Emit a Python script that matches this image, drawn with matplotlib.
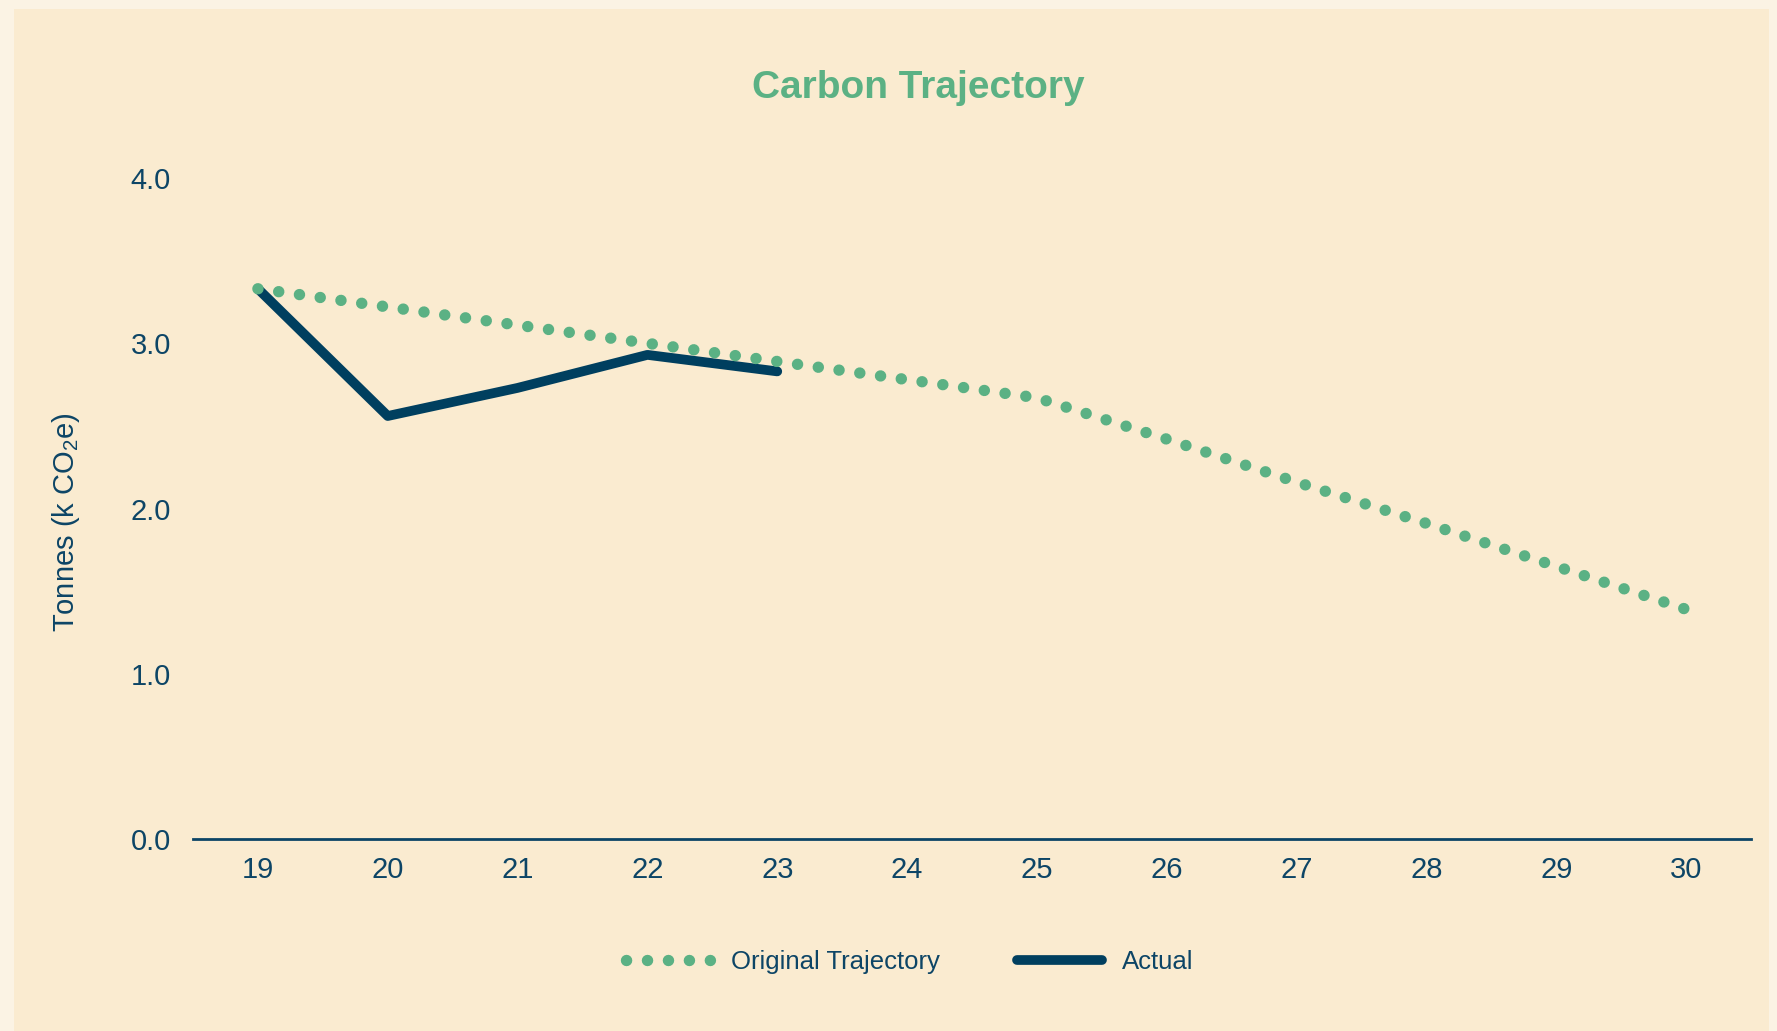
from matplotlib import pyplot as plt
from matplotlib.patches import Rectangle

plt.rcParams['font.family'] = ['Liberation Sans', 'DejaVu Sans']
plt.rcParams['mathtext.fontset'] = 'custom'
plt.rcParams['mathtext.rm'] = 'Liberation Sans'
plt.rcParams['mathtext.it'] = 'Liberation Sans'

years = [19, 20, 21, 22, 23, 24, 25, 26, 27, 28, 29, 30]
original = [3.33, 3.22, 3.11, 3.00, 2.89, 2.78, 2.67, 2.42, 2.16, 1.91, 1.65, 1.39]
actual_years = [19, 20, 21, 22, 23]
actual = [3.33, 2.56, 2.73, 2.93, 2.83]
yticks = [0.0, 1.0, 2.0, 3.0, 4.0]

navy = '#003F5F'
text_col = '#0D4566'
green = '#5BB184'

fig = plt.figure(figsize=(17.77, 10.31), dpi=100, facecolor='#FBF3E4')
fig.patches.append(Rectangle((14 / 1777, 0), 1755 / 1777, 1022 / 1031,
                             transform=fig.transFigure, facecolor='#FAEBD0',
                             edgecolor='none', zorder=-10))

ax = fig.add_axes([0.1086, 0.1862, 0.8768, 0.6411])
ax.set_facecolor('none')
ax.plot(years, original, color=green, lw=8.2, linestyle=(0, (0.01, 1.83)),
        dash_capstyle='round', label='Original Trajectory', zorder=3)
ax.plot(actual_years, actual, color=navy, lw=7, solid_capstyle='round',
        solid_joinstyle='round', label='Actual', zorder=2)

ax.set_xlim(18.5, 30.5)
ax.set_ylim(0, 4.0)
ax.set_xticks(years)
ax.set_xticklabels([str(y) for y in years])
ax.set_yticks(yticks)
ax.set_yticklabels(['%.1f' % v for v in yticks])
ax.tick_params(axis='x', length=0, pad=12, labelsize=21, labelcolor=text_col)
ax.tick_params(axis='y', length=0, pad=16, labelsize=21, labelcolor=text_col)
for s in ['top', 'right', 'left']:
    ax.spines[s].set_visible(False)
ax.spines['bottom'].set_color('#0B4466')
ax.spines['bottom'].set_linewidth(2)

ax.set_ylabel(r'Tonnes (k CO$_2$e)', fontsize=21, color=text_col)
ax.yaxis.set_label_coords(-0.071, 0.48)

fig.text(0.5166, 0.915, 'Carbon Trajectory', ha='center', va='center',
         fontsize=28, fontweight='bold', color=green)

handles, labels = ax.get_legend_handles_labels()
ax.legend(handles, labels, loc='center', bbox_to_anchor=(0.460, -0.186),
          ncol=2, frameon=False, fontsize=18.5, labelcolor=text_col,
          handlelength=3.3, handletextpad=0.8, columnspacing=3.0)

plt.savefig('out.png', dpi=100, facecolor=fig.get_facecolor())
